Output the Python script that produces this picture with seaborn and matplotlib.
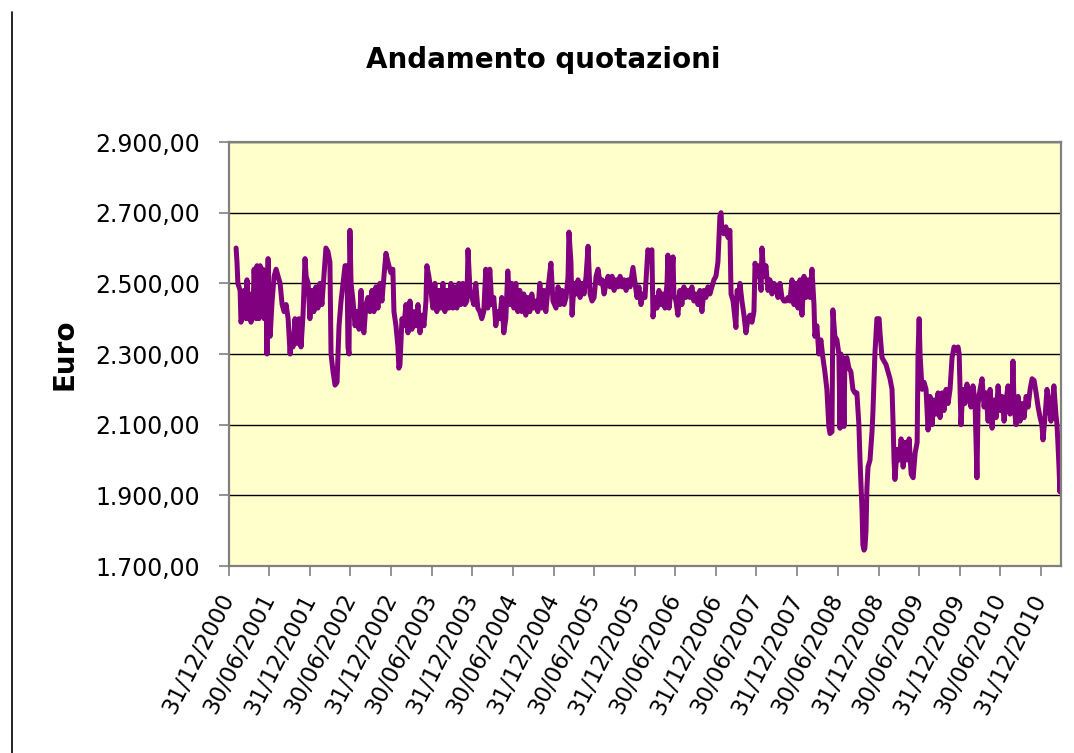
import matplotlib
matplotlib.use('Agg')
import matplotlib.pyplot as plt
from matplotlib.ticker import FuncFormatter
from matplotlib.lines import Line2D
import seaborn as sns
import pandas as pd

# ---- data: day offsets from 31/12 of the previous year, and quotes in Euro ----
days_2001 = [32, 36, 40, 50, 54, 63, 68, 77, 81, 86, 95, 99, 108, 113, 122, 126, 135, 140, 149, 153,
             158, 167, 171, 176, 180, 185, 194, 203, 212, 221, 230, 239, 248, 257, 266, 275, 279, 288,
             297, 306, 315, 324, 333, 342, 347, 356, 364]
vals_2001 = [2600, 2560, 2500, 2480, 2390, 2420, 2480, 2400, 2510, 2400, 2470, 2390, 2420, 2540, 2400,
             2550, 2400, 2550, 2420, 2540, 2400, 2450, 2300, 2570, 2420, 2350, 2450, 2520, 2540, 2520,
             2500, 2440, 2420, 2440, 2400, 2300, 2350, 2320, 2400, 2330, 2400, 2320, 2410, 2570, 2520,
             2500, 2400]

days_2002 = [8, 17, 26, 35, 44, 53, 62, 71, 80, 89, 94, 103, 112, 121, 130, 139, 148, 157, 166, 170,
             175, 179, 184, 193, 202, 211, 220, 229, 233, 242, 251, 260, 269, 278, 287, 296, 305, 314,
             323, 332, 341, 350, 359, 363]
vals_2002 = [2480, 2420, 2490, 2430, 2500, 2440, 2520, 2600, 2590, 2560, 2300, 2250, 2212, 2220, 2380,
             2450, 2500, 2550, 2550, 2320, 2300, 2650, 2500, 2450, 2380, 2420, 2370, 2480, 2380, 2360,
             2440, 2460, 2420, 2480, 2420, 2490, 2430, 2500, 2450, 2520, 2585, 2560, 2540, 2530]

days_2003 = [7, 12, 21, 30, 34, 39, 48, 57, 66, 75, 84, 93, 102, 111, 120, 129, 138, 147, 156, 160,
             169, 178, 187, 196, 205, 214, 223, 232, 241, 250, 259, 268, 277, 286, 295, 304, 313, 322,
             331, 340, 345, 354, 363]
vals_2003 = [2540, 2420, 2380, 2320, 2260, 2270, 2400, 2380, 2440, 2360, 2450, 2370, 2420, 2380, 2440,
             2360, 2410, 2380, 2450, 2550, 2520, 2480, 2430, 2500, 2420, 2480, 2430, 2500, 2420, 2480,
             2430, 2500, 2430, 2490, 2430, 2500, 2440, 2500, 2440, 2450, 2595, 2480, 2460]

days_2004 = [6, 15, 24, 33, 42, 51, 60, 69, 78, 87, 96, 105, 114, 123, 132, 141, 150, 159, 168, 177,
             186, 195, 204, 213, 222, 231, 240, 249, 258, 267, 276, 285, 294, 303, 312, 321, 330, 339,
             353, 362]
vals_2004 = [2440, 2500, 2430, 2420, 2400, 2420, 2540, 2430, 2540, 2440, 2460, 2380, 2420, 2400, 2460,
             2360, 2400, 2535, 2440, 2500, 2430, 2500, 2420, 2480, 2420, 2470, 2410, 2460, 2420, 2470,
             2430, 2450, 2420, 2500, 2430, 2480, 2420, 2480, 2557, 2450]

days_2005 = [10, 19, 28, 37, 46, 55, 64, 68, 77, 82, 91, 100, 109, 118, 127, 136, 145, 154, 163, 172,
             181, 190, 199, 208, 217, 226, 235, 244, 253, 262, 271, 280, 289, 298, 307, 316, 325, 334,
             343, 356]
vals_2005 = [2430, 2490, 2440, 2480, 2440, 2460, 2520, 2645, 2560, 2410, 2500, 2470, 2510, 2460, 2500,
             2470, 2520, 2605, 2470, 2450, 2460, 2520, 2540, 2500, 2510, 2470, 2500, 2520, 2490, 2520,
             2480, 2510, 2490, 2520, 2490, 2510, 2480, 2510, 2490, 2545]

days_2006 = [9, 18, 27, 36, 45, 58, 67, 76, 81, 90, 99, 108, 117, 126, 135, 144, 148, 153, 162, 171,
             175, 184, 193, 202, 211, 220, 229, 238, 247, 256, 265, 274, 283, 292, 301, 310, 319, 328,
             337, 346, 355, 364]
vals_2006 = [2460, 2490, 2440, 2470, 2460, 2595, 2580, 2595, 2405, 2460, 2430, 2480, 2440, 2470, 2430,
             2500, 2580, 2430, 2480, 2575, 2470, 2450, 2410, 2480, 2440, 2490, 2460, 2480, 2460, 2490,
             2450, 2470, 2440, 2480, 2420, 2480, 2460, 2490, 2470, 2490, 2510, 2520]

days_2007 = [8, 17, 22, 26, 35, 44, 53, 62, 67, 76, 85, 89, 94, 103, 107, 116, 125, 134, 143, 152,
             161, 170, 175, 184, 193, 202, 206, 215, 224, 233, 242, 251, 260, 269, 278, 287, 296, 305,
             314, 323, 332, 341, 350, 359]
vals_2007 = [2560, 2690, 2700, 2650, 2640, 2660, 2630, 2650, 2470, 2450, 2400, 2375, 2480, 2470, 2500,
             2450, 2410, 2360, 2400, 2410, 2390, 2420, 2557, 2520, 2550, 2480, 2600, 2520, 2550, 2480,
             2510, 2470, 2500, 2490, 2460, 2500, 2460, 2450, 2450, 2460, 2450, 2510, 2440, 2500]

days_2008 = [3, 12, 21, 30, 39, 48, 57, 66, 75, 79, 88, 97, 106, 115, 124, 133, 142, 147, 156, 160,
             169, 178, 187, 192, 196, 201, 205, 210, 214, 223, 232, 241, 250, 259, 268, 277, 282, 291,
             295, 300, 304, 309, 313, 318, 327, 336, 340, 349, 358]
vals_2008 = [2430, 2510, 2410, 2520, 2460, 2510, 2460, 2540, 2440, 2350, 2380, 2300, 2340, 2290, 2250,
             2200, 2094, 2075, 2080, 2425, 2350, 2340, 2300, 2090, 2300, 2100, 2290, 2095, 2280, 2290,
             2260, 2250, 2200, 2190, 2190, 2100, 2000, 1860, 1760, 1745, 1750, 1800, 1920, 1980, 2000,
             2080, 2133, 2300, 2400]

days_2009 = [2, 6, 15, 24, 33, 42, 51, 60, 65, 69, 73, 83, 92, 101, 110, 119, 128, 137, 146, 155,
             164, 173, 177, 182, 186, 195, 204, 213, 222, 231, 240, 249, 258, 267, 276, 285, 294, 303,
             312, 321, 330, 339, 348, 357, 362]
vals_2009 = [2400, 2360, 2290, 2280, 2270, 2250, 2230, 2200, 2100, 2000, 1945, 2030, 2000, 2060, 1980,
             2050, 2000, 2060, 1960, 1950, 2020, 2050, 2300, 2400, 2300, 2200, 2220, 2200, 2085, 2180,
             2100, 2170, 2130, 2190, 2120, 2190, 2140, 2200, 2160, 2200, 2290, 2320, 2310, 2320, 2300]

days_2010 = [5, 14, 23, 32, 41, 50, 59, 68, 77, 82, 91, 100, 109, 118, 127, 136, 145, 154, 163, 172,
             181, 190, 199, 208, 217, 226, 235, 239, 244, 253, 262, 271, 280, 289, 298, 307, 316, 325,
             334, 343, 352, 361]
vals_2010 = [2100, 2200, 2160, 2215, 2180, 2150, 2210, 2170, 1950, 2160, 2200, 2230, 2150, 2190, 2110,
             2200, 2090, 2170, 2120, 2210, 2140, 2180, 2110, 2170, 2210, 2130, 2180, 2280, 2150, 2100,
             2180, 2110, 2160, 2120, 2180, 2150, 2200, 2230, 2225, 2190, 2150, 2120]

days_2011 = [4, 9, 18, 27, 36, 45, 54, 58, 67, 72, 76, 81, 85, 88, 90]
vals_2011 = [2100, 2057, 2120, 2200, 2160, 2110, 2180, 2210, 2130, 2100, 2050, 1980, 1910, 1960, 1980]

y_ticks = [1700, 1900, 2100, 2300, 2500, 2700, 2900]
x_tick_labels = ['31/12/2000', '30/06/2001', '31/12/2001', '30/06/2002', '31/12/2002', '30/06/2003',
                 '31/12/2003', '30/06/2004', '31/12/2004', '30/06/2005', '31/12/2005', '30/06/2006',
                 '31/12/2006', '30/06/2007', '31/12/2007', '30/06/2008', '31/12/2008', '30/06/2009',
                 '31/12/2009', '30/06/2010', '31/12/2010']
title_text = 'Andamento quotazioni'
y_label = 'Euro'

# ---- build table ----
series = [(2001, days_2001, vals_2001), (2002, days_2002, vals_2002), (2003, days_2003, vals_2003),
          (2004, days_2004, vals_2004), (2005, days_2005, vals_2005), (2006, days_2006, vals_2006),
          (2007, days_2007, vals_2007), (2008, days_2008, vals_2008), (2009, days_2009, vals_2009),
          (2010, days_2010, vals_2010), (2011, days_2011, vals_2011)]
frames = []
for year, d, v in series:
    base = pd.Timestamp(f'{year - 1}-12-31')
    frames.append(pd.DataFrame({'data': base + pd.to_timedelta(d, unit='D'), 'euro': v}))
df = pd.concat(frames, ignore_index=True)

sns.set_style('white')
plt.rcParams['font.family'] = ['DejaVu Sans']
plt.rcParams['text.color'] = 'black'

fig = plt.figure(figsize=(10.74, 7.53), dpi=100)
ax = fig.add_axes([0.2132, 0.2483, 0.7747, 0.5631])
ax.set_facecolor('#FFFFCC')

sns.lineplot(data=df, x='data', y='euro', ax=ax, color='#800080', linewidth=3.6,
             estimator=None, sort=False)

ax.set_ylim(y_ticks[0], y_ticks[-1])
ax.set_yticks(y_ticks)
ax.yaxis.set_major_formatter(FuncFormatter(
    lambda v, p: f'{v:,.2f}'.replace(',', 'X').replace('.', ',').replace('X', '.')))

tick_dates = pd.to_datetime(x_tick_labels, format='%d/%m/%Y')
ax.set_xticks(tick_dates)
ax.set_xticklabels(x_tick_labels, rotation=63, ha='right', va='center', rotation_mode='anchor')
ax.set_xlim(pd.Timestamp('2000-12-31'), df['data'].iloc[-1])

ax.grid(axis='y', color='black', linewidth=1.0)
ax.grid(axis='x', visible=False)
ax.set_axisbelow(True)
for s in ax.spines.values():
    s.set_color('#808080')
    s.set_linewidth(1.6)
    s.set_visible(True)

ax.tick_params(axis='y', direction='out', length=7, width=1.2, color='#808080',
               labelsize=17, pad=14, left=True, labelcolor='black')
ax.tick_params(axis='x', direction='out', length=7, width=1.2, color='#808080',
               labelsize=16.5, pad=14, bottom=True, labelcolor='black')
ax.set_xlabel('')
ax.set_ylabel('')

fig.text(0.5055, 0.920, title_text, ha='center', va='center', fontsize=20, fontweight='bold',
         color='black')
fig.text(0.0605, 0.530, y_label, ha='center', va='center', rotation=90, fontsize=20,
         fontweight='bold', color='black')
fig.add_artist(Line2D([0.0116, 0.0116], [0.0, 0.984], transform=fig.transFigure,
                      color='black', linewidth=1.2))

fig.savefig('out.png', dpi=100)
